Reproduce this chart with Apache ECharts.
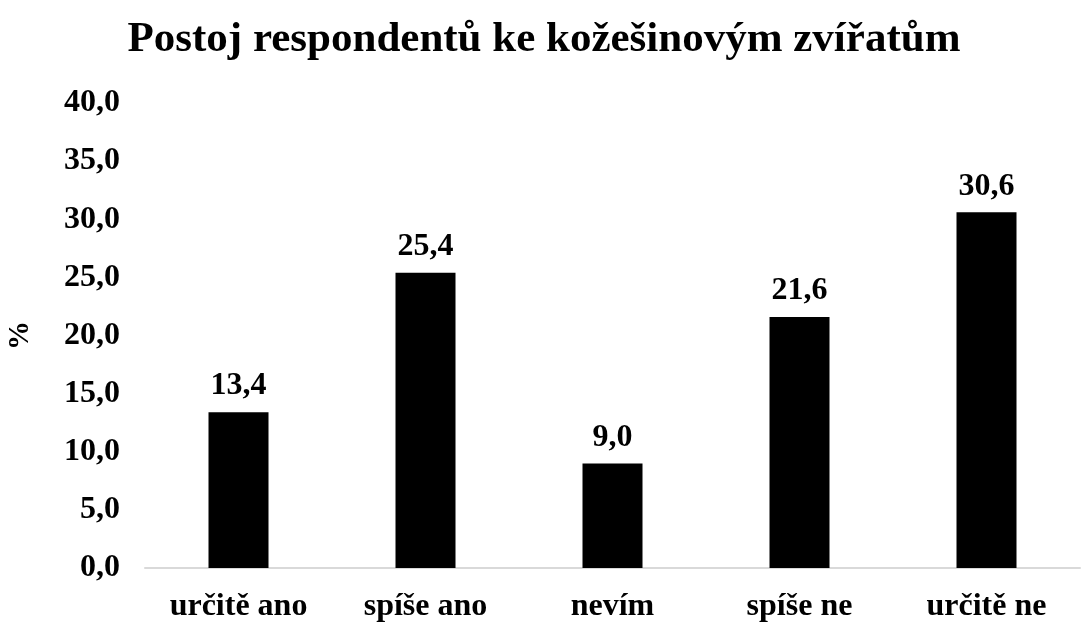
<!doctype html>
<html lang="cs">
<head>
    <meta charset="UTF-8">
    <title>Postoj respondentů ke kožešinovým zvířatům</title>
    <script src="https://cdn.jsdelivr.net/npm/echarts@6/dist/echarts.min.js"></script>
    <style>
        html, body {
            margin: 0;
            padding: 0;
            background-color: #ffffff;
        }

        #mainChart {
            width: 1088px;
            height: 622px;
        }
    </style>
</head>
<body>
<div id="mainChart"></div>
<script>
    // data
    const categories = ['určitě ano', 'spíše ano', 'nevím', 'spíše ne', 'určitě ne'];
    const values = [13.4, 25.4, 9.0, 21.6, 30.6];

    const serif = '"Liberation Serif", "DejaVu Serif", serif';

    function fmt(v) {
        return Number(v).toFixed(1).replace('.', ',');
    }

    let myChart = echarts.init(document.getElementById('mainChart'));

    let option = {
        animation: false,
        title: {
            text: 'Postoj respondentů ke kožešinovým zvířatům',
            left: 'center',
            top: 13,
            textStyle: {
                fontFamily: serif,
                fontWeight: 'bold',
                fontSize: 43,
                color: '#000'
            }
        },
        grid: {
            left: 145,
            right: 8,
            top: 103,
            bottom: 54,
            outerBoundsMode: 'none'
        },
        xAxis: {
            type: 'category',
            data: categories,
            axisLine: {
                lineStyle: {color: '#d9d9d9', width: 2}
            },
            axisTick: {show: false},
            axisLabel: {
                margin: 23,
                fontFamily: serif,
                fontWeight: 'bold',
                fontSize: 32,
                color: '#000'
            }
        },
        yAxis: {
            type: 'value',
            min: 0,
            max: 40,
            interval: 5,
            name: '%',
            nameLocation: 'middle',
            nameGap: 110,
            nameRotate: 90,
            nameTextStyle: {
                fontFamily: serif,
                fontWeight: 'bold',
                fontSize: 29,
                color: '#000'
            },
            axisLine: {show: false},
            axisTick: {show: false},
            splitLine: {show: false},
            axisLabel: {
                margin: 25,
                formatter: fmt,
                fontFamily: serif,
                fontWeight: 'bold',
                fontSize: 32,
                color: '#000'
            }
        },
        series: [{
            type: 'bar',
            data: values,
            barWidth: 60,
            itemStyle: {color: '#000'},
            label: {
                show: true,
                position: 'top',
                distance: 10,
                formatter: function (p) {
                    return fmt(p.value);
                },
                fontFamily: serif,
                fontWeight: 'bold',
                fontSize: 32,
                color: '#000'
            }
        }]
    };

    myChart.setOption(option);
</script>
</body>
</html>
